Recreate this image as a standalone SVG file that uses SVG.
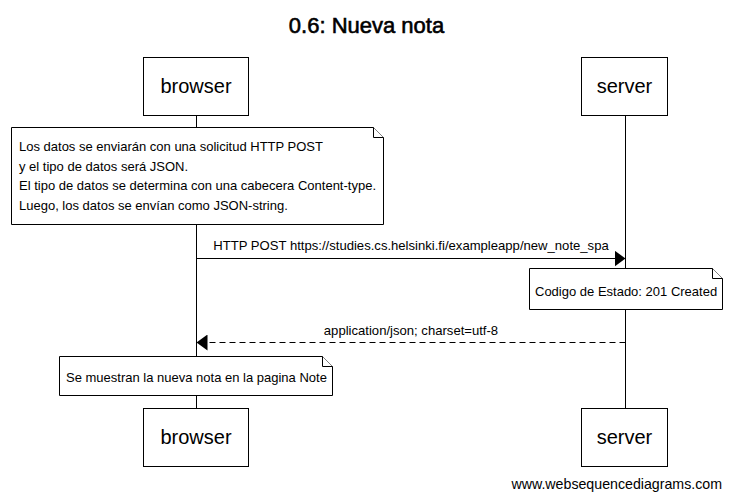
<svg xmlns="http://www.w3.org/2000/svg" width="732" height="500" viewBox="0 0 732 500">
<defs>
<style>
text{font-family:"Liberation Sans",Arial,sans-serif;fill:#000}
.box{fill:#fff;stroke:#000;stroke-width:1}
.life{stroke:#000;stroke-width:1}
.note{fill:#fff;stroke:#000;stroke-width:1}
.fold{fill:#fff;stroke:#000;stroke-width:1}
.pl{font-size:20px;text-anchor:middle}
.nt{font-size:13px}
.ml{font-size:13.1px;text-anchor:middle}
.msg{stroke:#000;stroke-width:1;fill:none}
.dash{stroke-dasharray:6,4}
</style>
<marker id="ah" markerWidth="12" markerHeight="16" refX="11" refY="8" orient="auto" markerUnits="userSpaceOnUse">
<path d="M0,0 L11,8 L0,16 Z" fill="#000"/>
</marker>
</defs>
<rect width="732" height="500" fill="#fff"/>
<text x="366.5" y="33" font-size="22" stroke="#000" stroke-width="0.6" text-anchor="middle">0.6: Nueva nota</text>
<g id="lifelines">
<line class="life" x1="196.5" y1="116" x2="196.5" y2="409"/>
<line class="life" x1="625.5" y1="116" x2="625.5" y2="409"/>
</g>
<g id="browser-top"><rect class="box" x="143.5" y="57.5" width="105" height="58"/><text class="pl" x="196" y="93">browser</text></g>
<g id="server-top"><rect class="box" x="581.5" y="57.5" width="86" height="58"/><text class="pl" x="624.5" y="93">server</text></g>
<g id="browser-bottom"><rect class="box" x="143.5" y="408.5" width="105" height="58"/><text class="pl" x="196" y="444">browser</text></g>
<g id="server-bottom"><rect class="box" x="581.5" y="408.5" width="86" height="58"/><text class="pl" x="624.5" y="444">server</text></g>
<g id="note1">
<path class="note" d="M11.5,127.5 H373.5 L383.5,137.5 V224.5 H11.5 Z"/>
<path class="fold" d="M373.5,127.5 V137.5 H383.5"/>
<text class="nt" x="19" y="151">Los datos se enviarán con una solicitud HTTP POST</text>
<text class="nt" x="19" y="170.5">y el tipo de datos será JSON.</text>
<text class="nt" x="19" y="190">El tipo de datos se determina con una cabecera Content-type.</text>
<text class="nt" x="19" y="209.5">Luego, los datos se envían como JSON-string.</text>
</g>
<g id="note2">
<path class="note" d="M529.5,268.5 H712.5 L722.5,278.5 V309.5 H529.5 Z"/>
<path class="fold" d="M712.5,268.5 V278.5 H722.5"/>
<text class="nt" x="535" y="296">Codigo de Estado: 201 Created</text>
</g>
<g id="note3">
<path class="note" d="M59.5,356.5 H322.5 L332.5,366.5 V395.5 H59.5 Z"/>
<path class="fold" d="M322.5,356.5 V366.5 H332.5"/>
<text class="nt" x="66" y="382">Se muestran la nueva nota en la pagina Note</text>
</g>
<g id="connectors">
<line class="msg" x1="196.5" y1="258.5" x2="625.5" y2="258.5" marker-end="url(#ah)"/>
<text class="ml" x="411" y="250">HTTP POST https://studies.cs.helsinki.fi/exampleapp/new_note_spa</text>
<line class="msg dash" x1="625.5" y1="342.5" x2="196.5" y2="342.5" marker-end="url(#ah)"/>
<text class="ml" x="411" y="335">application/json; charset=utf-8</text>
</g>
<text x="722" y="489" font-size="14.2" text-anchor="end">www.websequencediagrams.com</text>
</svg>
